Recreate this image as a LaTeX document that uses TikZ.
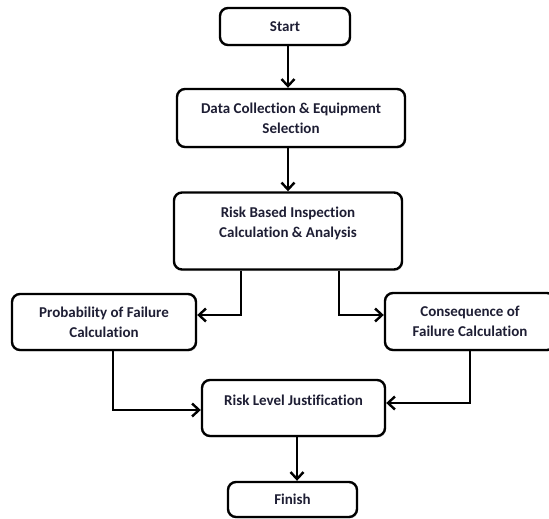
\documentclass[tikz,border=0pt]{standalone}
\usepackage{fontspec}
\setmainfont{Carlito}[Ligatures={NoCommon}]
\usetikzlibrary{arrows.meta,calc,shadows}
\definecolor{txtc}{RGB}{30,30,52}
\tikzset{
  box/.style={draw=black, line width=2.4pt, rounded corners=8pt, fill=white,
    drop shadow={shadow xshift=1pt, shadow yshift=-1.5pt, opacity=0.25},
    align=center, font=\bfseries\fontsize{15}{20}\selectfont, text=txtc, inner sep=0pt},
  lbl/.style={align=center, font=\bfseries\fontsize{15}{20}\selectfont, text=txtc, inner sep=0pt},
  arr/.style={line width=2.4pt, -{Straight Barb[length=7pt,width=13pt,line width=2.4pt]}}
}
\begin{document}
\begin{tikzpicture}[x=1pt,y=-1pt]
\useasboundingbox (0,0) rectangle (549,519);
\clip (0,0) rectangle (549,519);
\fill[white] (0,0) rectangle (549,519);
\node[box, minimum width=130pt, minimum height=37pt] (start) at (285,26.5) {Start};
\node[box, minimum width=228pt, minimum height=58pt] (data) at (291,118) {Data Collection \& Equipment\\Selection};
\node[box, minimum width=228pt, minimum height=77pt] (rbi) at (288,231) {};
\node[lbl] (rbit) at (288,223) {Risk Based Inspection\\Calculation \& Analysis};
\node[box, minimum width=184pt, minimum height=56pt] (pof) at (104,322) {Probability of Failure\\Calculation};
\node[box, minimum width=170pt, minimum height=57pt] (cof) at (470,321.5) {Consequence of\\Failure Calculation};
\node[box, minimum width=183pt, minimum height=56pt] (rl) at (293.5,408) {};
\node[lbl] (rlt) at (293.5,400) {Risk Level Justification};
\node[box, minimum width=129pt, minimum height=35pt] (fin) at (292.5,499.5) {Finish};
\draw[arr] (start.south -| rbi.north) -- (data.north -| rbi.north);
\draw[arr] (data.south -| rbi.north) -- (rbi.north);
\draw[arr] ($(rbi.south west)+(68,0)$) |- ($(pof.east)+(0,-7)$);
\draw[arr] ($(rbi.south east)+(-64,0)$) |- ($(cof.west)+(0,-6.5)$);
\draw[arr] ($(pof.south)+(9,0)$) |- ($(rl.west)+(0,2)$);
\draw[arr] (cof.south) |- ($(rl.east)+(0,-5)$);
\draw[arr] ($(rl.south)+(3.5,0)$) -- ($(fin.north)+(4.5,0)$);
\end{tikzpicture}
\end{document}
